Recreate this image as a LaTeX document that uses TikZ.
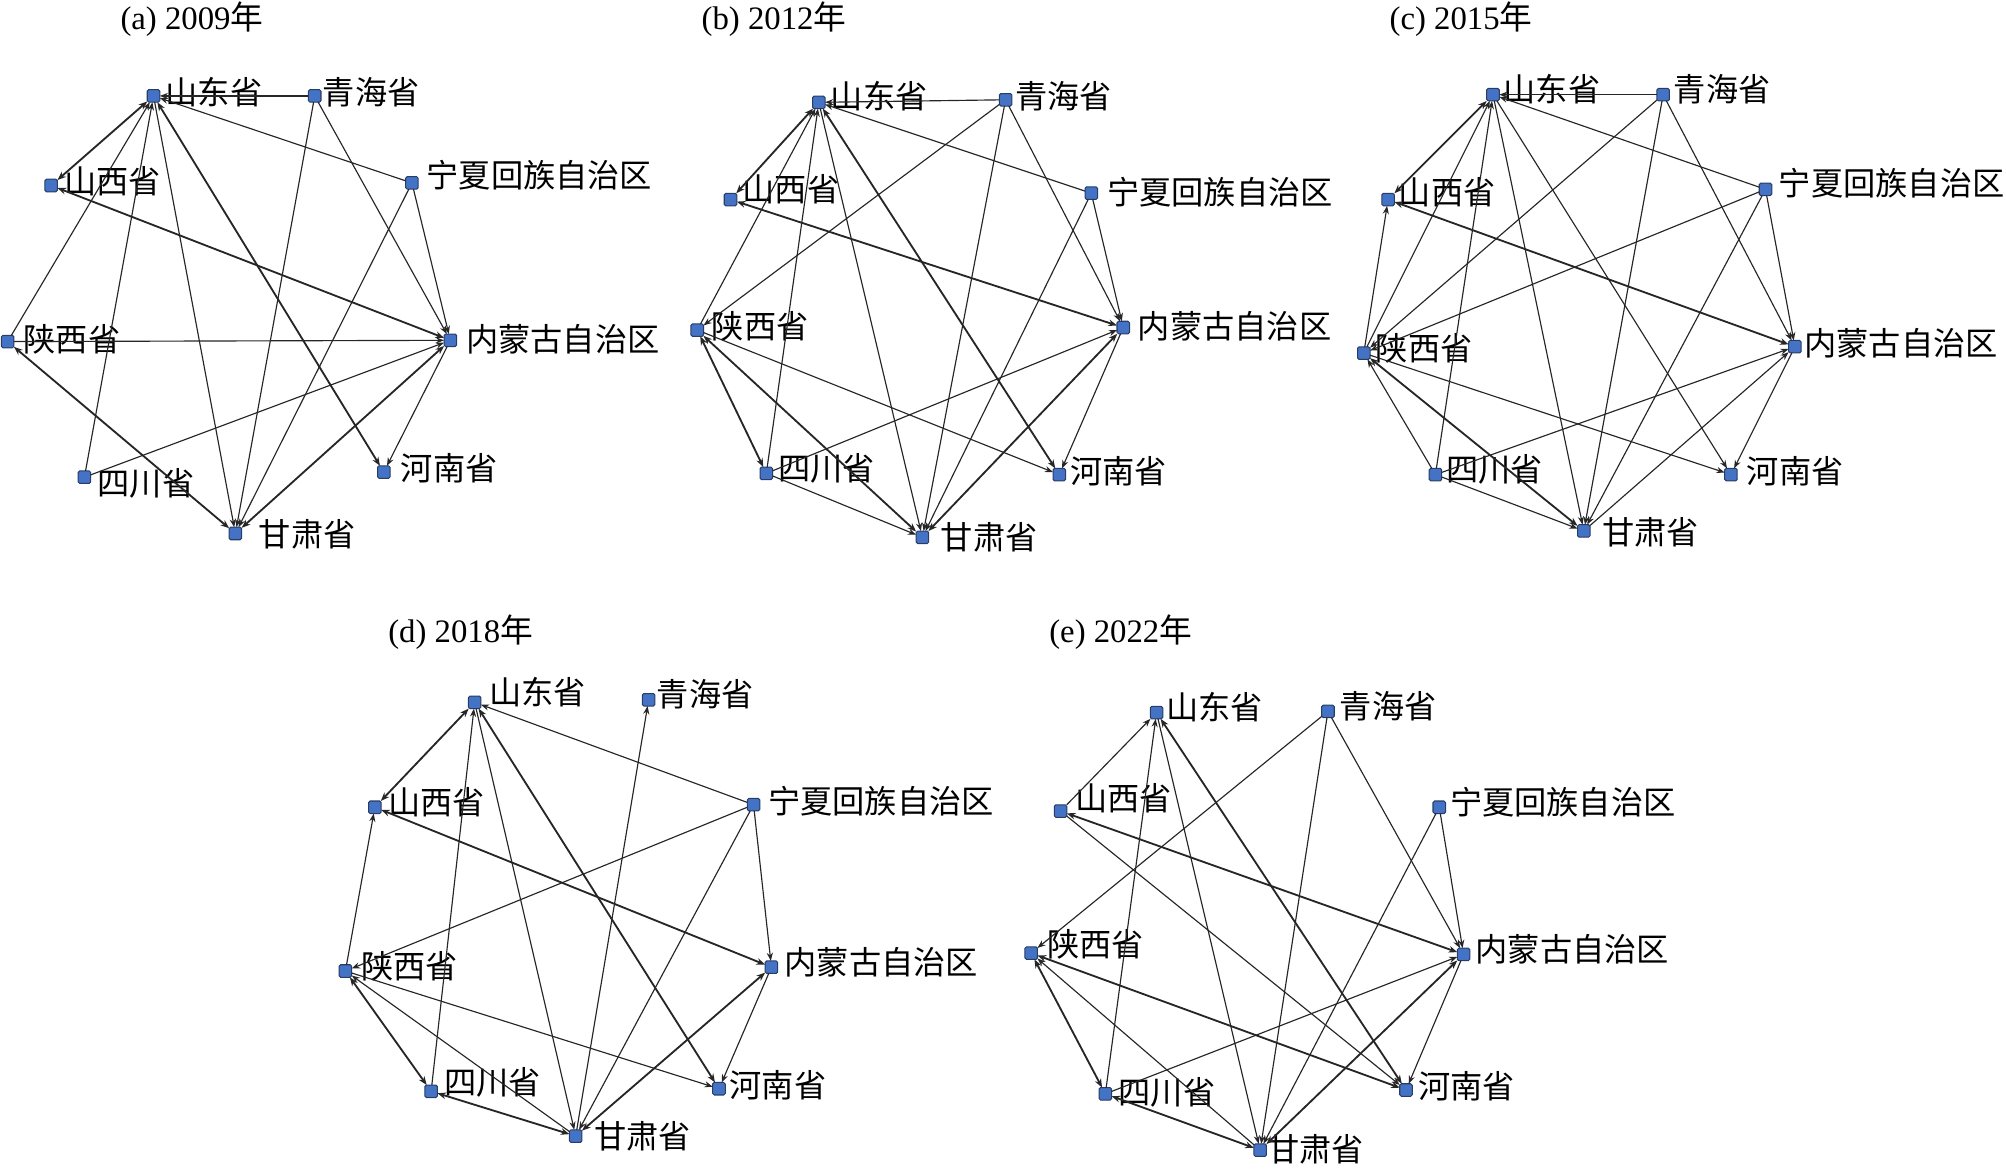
\documentclass[tikz,border=0pt]{standalone}
\usepackage{fontspec}
\setmainfont{Liberation Serif}
\newfontfamily\cjk{Noto Sans CJK SC}
\usetikzlibrary{arrows.meta}
\definecolor{nodeblue}{RGB}{68,114,196}
\definecolor{nodeedge}{RGB}{40,60,100}
\tikzset{
  sq/.style={draw=nodeedge, fill=nodeblue, line width=0.4pt, rounded corners=0.6pt, minimum size=4.9pt, inner sep=0pt, outer sep=0pt},
  lab/.style={anchor=west, inner sep=0pt, font=\cjk\fontsize{12.6pt}{13pt}\selectfont},
  ttl/.style={inner sep=0pt, font=\fontsize{12.8pt}{13pt}\selectfont},
  uni/.style={draw=black!85, line width=0.45pt, -{Stealth[length=3.2pt,width=2.4pt]}},
  bi/.style={draw=black!85, line width=0.72pt, {Stealth[length=3.4pt,width=2.6pt]}-{Stealth[length=3.4pt,width=2.6pt]}}
}
\newcommand\prov[6]{%
  \node[sq] (#1) at (#2,#3) {};
  \node[lab] (#1l) at (#5,#6) {#4};}
\begin{document}
\begin{tikzpicture}[x=0.5pt,y=-0.5pt]
\useasboundingbox (0,0) rectangle (1568,915);
% ---------- (a) 2009
\node[ttl] (ta) at (150,15) {(a) 2009{\cjk 年}};
\prov{aSD}{120}{75}{山东省}{129}{72}
\prov{aQH}{246}{75}{青海省}{252}{72}
\prov{aNX}{322}{143}{宁夏回族自治区}{333}{137}
\prov{aSX}{40}{145}{山西省}{50}{142}
\prov{aSN}{6}{267}{陕西省}{18}{265}
\prov{aNM}{352}{266}{内蒙古自治区}{364}{265}
\prov{aHN}{300}{369}{河南省}{313}{366}
\prov{aSC}{66}{373}{四川省}{76}{378}
\prov{aGS}{184}{417}{甘肃省}{202}{418}
\draw[uni] (aQH) -- (aSD);
\draw[uni] (aNX) -- (aSD);
\draw[bi] (aSD) -- (aSX);
\draw[uni] (aSN) -- (aSD);
\draw[uni] (aSC) -- (aSD);
\draw[uni] (aSD) -- (aGS);
\draw[bi] (aSD) -- (aHN);
\draw[bi] (aSX) -- (aNM);
\draw[uni] (aSN) -- (aNM);
\draw[uni] (aQH) -- (aNM);
\draw[uni] (aNX) -- (aNM);
\draw[uni] (aQH) -- (aGS);
\draw[uni] (aNX) -- (aGS);
\draw[uni] (aSC) -- (aNM);
\draw[bi] (aGS) -- (aNM);
\draw[uni] (aNM) -- (aHN);
\draw[bi] (aSN) -- (aGS);
% ---------- (b) 2012
\node[ttl] (tb) at (605,15) {(b) 2012{\cjk 年}};
\prov{bSD}{640}{80}{山东省}{649}{75}
\prov{bQH}{786}{78}{青海省}{793}{75}
\prov{bNX}{853}{151}{宁夏回族自治区}{865}{150}
\prov{bSX}{571}{156}{山西省}{580}{148}
\prov{bSN}{545}{258}{陕西省}{556}{255}
\prov{bNM}{878}{256}{内蒙古自治区}{889}{255}
\prov{bHN}{828}{371}{河南省}{836}{368}
\prov{bSC}{599}{370}{四川省}{608}{366}
\prov{bGS}{721}{420}{甘肃省}{735}{420}
\draw[uni] (bQH) -- (bSD);
\draw[uni] (bNX) -- (bSD);
\draw[bi] (bSD) -- (bSX);
\draw[uni] (bSN) -- (bSD);
\draw[uni] (bSC) -- (bSD);
\draw[uni] (bSD) -- (bGS);
\draw[bi] (bSD) -- (bHN);
\draw[uni] (bQH) -- (bSN);
\draw[uni] (bQH) -- (bGS);
\draw[uni] (bQH) -- (bNM);
\draw[uni] (bNX) -- (bNM);
\draw[uni] (bNX) -- (bGS);
\draw[bi] (bSX) -- (bNM);
\draw[uni] (bSN) -- (bHN);
\draw[bi] (bSN) -- (bSC);
\draw[bi] (bGS) -- (bSN);
\draw[uni] (bSC) -- (bGS);
\draw[uni] (bSC) -- (bNM);
\draw[bi] (bGS) -- (bNM);
\draw[uni] (bNM) -- (bHN);
% ---------- (c) 2015
\node[ttl] (tc) at (1142,15) {(c) 2015{\cjk 年}};
\prov{cSD}{1167}{74}{山东省}{1175}{70}
\prov{cQH}{1300}{74}{青海省}{1308}{70}
\prov{cNX}{1380}{148}{宁夏回族自治区}{1390}{143}
\prov{cSX}{1085}{156}{山西省}{1093}{150}
\prov{cSN}{1066}{276}{陕西省}{1075}{272}
\prov{cNM}{1403}{271}{内蒙古自治区}{1410}{268}
\prov{cHN}{1353}{371}{河南省}{1365}{368}
\prov{cSC}{1122}{371}{四川省}{1130}{367}
\prov{cGS}{1238}{415}{甘肃省}{1252}{416}
\draw[uni] (cQH) -- (cSD);
\draw[uni] (cNX) -- (cSD);
\draw[bi] (cSX) -- (cSD);
\draw[uni] (cSN) -- (cSD);
\draw[uni] (cSC) -- (cSD);
\draw[uni] (cSD) -- (cGS);
\draw[uni] (cSD) -- (cHN);
\draw[bi] (cSX) -- (cNM);
\draw[uni] (cSN) -- (cSX);
\draw[uni] (cQH) -- (cSN);
\draw[uni] (cNX) -- (cSN);
\draw[uni] (cQH) -- (cGS);
\draw[uni] (cQH) -- (cNM);
\draw[uni] (cNX) -- (cNM);
\draw[uni] (cNX) -- (cGS);
\draw[uni] (cSN) -- (cHN);
\draw[uni] (cSC) -- (cSN);
\draw[bi] (cGS) -- (cSN);
\draw[uni] (cSC) -- (cGS);
\draw[uni] (cSC) -- (cNM);
\draw[uni] (cGS) -- (cNM);
\draw[uni] (cNM) -- (cHN);
% ---------- (d) 2018
\node[ttl] (td) at (360,494) {(d) 2018{\cjk 年}};
\prov{dSD}{371}{549}{山东省}{382}{541}
\prov{dQH}{507}{547}{青海省}{513}{543}
\prov{dNX}{589}{629}{宁夏回族自治区}{600}{626}
\prov{dSX}{293}{631}{山西省}{303}{627}
\prov{dSN}{270}{759}{陕西省}{282}{755}
\prov{dNM}{603}{756}{内蒙古自治区}{613}{752}
\prov{dHN}{562}{851}{河南省}{570}{848}
\prov{dSC}{337}{853}{四川省}{347}{846}
\prov{dGS}{450}{888}{甘肃省}{464}{888}
\draw[uni] (dNX) -- (dSD);
\draw[bi] (dSX) -- (dSD);
\draw[uni] (dSC) -- (dSD);
\draw[uni] (dSD) -- (dGS);
\draw[bi] (dSD) -- (dHN);
\draw[uni] (dGS) -- (dQH);
\draw[bi] (dSX) -- (dNM);
\draw[uni] (dSN) -- (dSX);
\draw[uni] (dNX) -- (dSN);
\draw[uni] (dNX) -- (dNM);
\draw[uni] (dNX) -- (dGS);
\draw[uni] (dSN) -- (dHN);
\draw[bi] (dSN) -- (dSC);
\draw[uni] (dGS) -- (dSN);
\draw[bi] (dSC) -- (dGS);
\draw[bi] (dGS) -- (dNM);
\draw[uni] (dNM) -- (dHN);
% ---------- (e) 2022
\node[ttl] (te) at (876,494) {(e) 2022{\cjk 年}};
\prov{eSD}{904}{557}{山东省}{911}{553}
\prov{eQH}{1038}{556}{青海省}{1047}{552}
\prov{eNX}{1125}{631}{宁夏回族自治区}{1133}{627}
\prov{eSX}{829}{634}{山西省}{840}{624}
\prov{eSN}{806}{745}{陕西省}{818}{738}
\prov{eNM}{1144}{746}{内蒙古自治区}{1153}{742}
\prov{eHN}{1099}{852}{河南省}{1108}{849}
\prov{eSC}{864}{855}{四川省}{874}{854}
\prov{eGS}{985}{899}{甘肃省}{990}{898}
\draw[uni] (eSX) -- (eSD);
\draw[uni] (eSC) -- (eSD);
\draw[uni] (eSD) -- (eGS);
\draw[bi] (eSD) -- (eHN);
\draw[uni] (eQH) -- (eSN);
\draw[uni] (eQH) -- (eGS);
\draw[uni] (eQH) -- (eNM);
\draw[bi] (eSX) -- (eNM);
\draw[uni] (eSX) -- (eHN);
\draw[uni] (eNX) -- (eGS);
\draw[uni] (eNX) -- (eNM);
\draw[bi] (eSN) -- (eHN);
\draw[bi] (eSN) -- (eSC);
\draw[uni] (eGS) -- (eSN);
\draw[bi] (eSC) -- (eGS);
\draw[uni] (eSC) -- (eNM);
\draw[bi] (eGS) -- (eNM);
\draw[uni] (eNM) -- (eHN);
\end{tikzpicture}
\end{document}
